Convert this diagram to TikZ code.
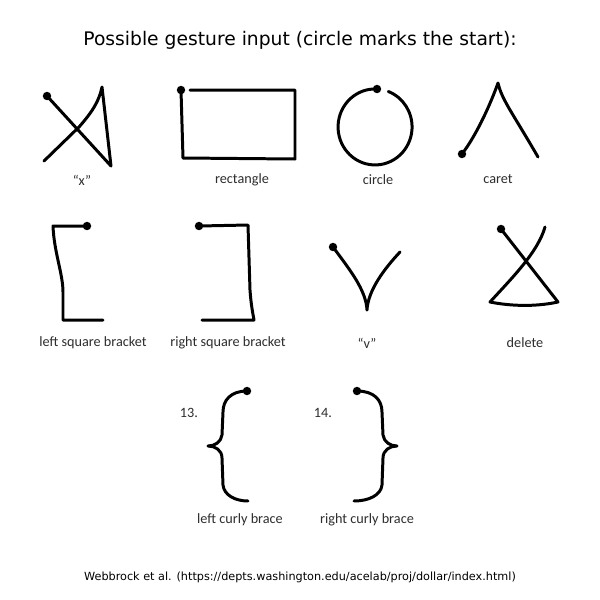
\documentclass[tikz,border=0pt]{standalone}
\usepackage{fontspec}
\setmainfont{DejaVu Sans}
\newfontfamily\labelfont{Carlito}
\usepackage{xcolor}
\usetikzlibrary{positioning}

\definecolor{lblgray}{HTML}{2E2E2E}

\begin{document}
\begin{tikzpicture}[
        x=0.02cm, y=-0.02cm,
        stroke/.style={line width=1.7pt, black, line cap=round, line join=round},
        startdot/.style={circle, fill=black, inner sep=0pt, minimum size=4.8pt},
        lbl/.style={font=\labelfont\fontsize{8.1}{9.6}\selectfont, text=lblgray, inner sep=1pt},
        title/.style={font=\fontsize{10.65}{12}\selectfont, inner sep=0pt},
        credit/.style={font=\fontsize{6.4}{7.5}\selectfont, inner sep=0pt}
    ]
        \useasboundingbox[fill=white] (0,0) rectangle (600,600);

        % Title
        \node[title] (head) at (300,40) {Possible gesture input (circle marks the start):};

        % Row 1: x, rectangle, circle, caret
        \node[startdot] (xs) at (47,96) {};
        \draw[stroke] (xs.center) -- (111,166) -- (102,87)
            .. controls (99,101) and (93,111) .. (79,127) -- (44,161);
        \node[lbl] (xl) at (82,180) {“x”};

        \node[startdot] (rs) at (181,90) {};
        \draw[stroke] (rs.center) -- (183,158) -- (295,159) -- (295,90) -- (190,90);
        \node[lbl] (rl) at (242,180) {rectangle};

        \node[startdot] (cs) at (377,89) {};
        \draw[stroke] (cs.center) arc[start angle=-87, end angle=-429, x radius=37, y radius=38];
        \node[lbl] (cl) at (378,180) {circle};

        \node[startdot] (ks) at (462,154) {};
        \draw[stroke] (ks.center) .. controls (478,133) and (492,100) .. (498,83)
            .. controls (502,100) and (512,112) .. (538,157);
        \node[lbl] (kl) at (498,179) {caret};

        % Row 2: brackets, v, delete
        \node[startdot] (ls) at (87,226) {};
        \draw[stroke] (ls.center) -- (53,226) .. controls (54,252) and (63,274) .. (63,292)
            -- (63,320) -- (103,320);
        \node[lbl] (ll) at (93,343) {left square bracket};

        \node[startdot] (bs) at (199,226) {};
        \draw[stroke] (bs.center) -- (248,225) -- (250,290)
            .. controls (251,305) and (253,314) .. (254,320) -- (202,320);
        \node[lbl] (bl) at (228,343) {right square bracket};

        \node[startdot] (vs) at (333,247) {};
        \draw[stroke] (vs.center) .. controls (350,270) and (366,290) .. (367,310)
            .. controls (368,290) and (385,268) .. (400,252);
        \node[lbl] (vl) at (367,343) {“v”};

        \node[startdot] (ds) at (501,229) {};
        \draw[stroke] (ds.center) -- (558,302) .. controls (535,307) and (510,306) .. (490,302)
            .. controls (512,278) and (538,252) .. (545,227);
        \node[lbl] (dl) at (525,343) {delete};

        % Row 3: curly braces
        \node[lbl] (n13) at (189,413) {13.};
        \node[startdot] (lc) at (247,391) {};
        \draw[stroke] (lc.center) .. controls (231,391) and (223,400) .. (223,412)
            -- (222,435) .. controls (221,442) and (215,446) .. (208,446)
            .. controls (215,446) and (222,450) .. (222,458)
            -- (223,485) .. controls (224,495) and (235,501) .. (248,501);
        \node[lbl] (lcl) at (240,520) {left curly brace};

        \node[lbl] (n14) at (323,413) {14.};
        \node[startdot] (rc) at (357,391) {};
        \draw[stroke] (rc.center) .. controls (374,391) and (382,400) .. (382,412)
            -- (383,435) .. controls (384,442) and (390,446) .. (397,446)
            .. controls (390,446) and (383,450) .. (383,458)
            -- (382,485) .. controls (381,495) and (369,501) .. (354,501);
        \node[lbl] (rcl) at (367,520) {right curly brace};

        % Source
        \node[credit] (src) at (300,577) {Webbrock et al. (https://depts.washington.edu/acelab/proj/dollar/index.html)};
    \end{tikzpicture}
\end{document}
